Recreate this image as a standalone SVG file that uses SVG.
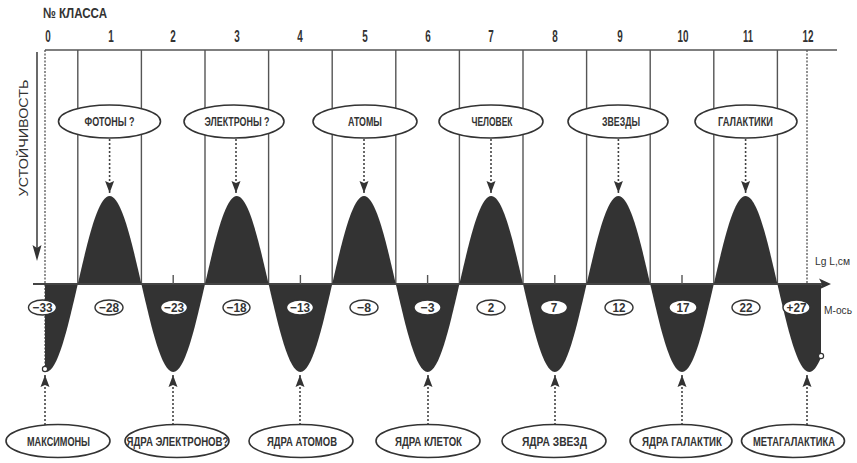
<svg xmlns="http://www.w3.org/2000/svg" xmlns:xlink="http://www.w3.org/1999/xlink" width="857" height="463" viewBox="0 0 857 463">
<style>
.t{font-family:"Liberation Sans Narrow","Liberation Sans",Arial,sans-serif;fill:#333;font-weight:bold;}
.n{font-weight:normal;}
.lbl{font-size:12.5px;text-anchor:middle;}
.num{font-size:16px;text-anchor:middle;}
.m{font-size:13px;text-anchor:middle;}
.grid{stroke:#555;stroke-width:1.4;fill:none;}
.ell{fill:#fff;stroke:#333;stroke-width:1.6;}
.mell{fill:#fff;stroke:#333;stroke-width:1.4;}
.dot{stroke:#444;stroke-width:1.6;stroke-dasharray:2 2;fill:none;marker-end:url(#ah);}
.wave{fill:#333;}
</style>
<defs>
<marker id="ah" markerUnits="userSpaceOnUse" markerWidth="14" markerHeight="12" viewBox="-13 -6 14 12" refX="0" refY="0" orient="auto">
<path d="M0,0 L-12,-4.5 L-10,0 L-12,4.5 Z" fill="#333"/>
</marker>
<path id="dip" d="M-31.8,0 C-21.43,45.08 -11.51,88 0,88 C11.51,88 21.43,45.08 31.8,0 Z"/>
<clipPath id="wc"><rect x="45" y="150" width="776" height="240"/></clipPath>
</defs>
<rect width="857" height="463" fill="#fff"/>

<!-- header -->
<text class="t" x="43" y="18" font-size="15" textLength="64" lengthAdjust="spacingAndGlyphs">№ КЛАССА</text>
<g class="t num">
<text x="48" y="42" textLength="5.5" lengthAdjust="spacingAndGlyphs">0</text>
<text x="111" y="42" textLength="5.5" lengthAdjust="spacingAndGlyphs">1</text>
<text x="173" y="42" textLength="5.5" lengthAdjust="spacingAndGlyphs">2</text>
<text x="237" y="42" textLength="5.5" lengthAdjust="spacingAndGlyphs">3</text>
<text x="300" y="42" textLength="5.5" lengthAdjust="spacingAndGlyphs">4</text>
<text x="365" y="42" textLength="5.5" lengthAdjust="spacingAndGlyphs">5</text>
<text x="428" y="42" textLength="5.5" lengthAdjust="spacingAndGlyphs">6</text>
<text x="491" y="42" textLength="5.5" lengthAdjust="spacingAndGlyphs">7</text>
<text x="555" y="42" textLength="5.5" lengthAdjust="spacingAndGlyphs">8</text>
<text x="620" y="42" textLength="5.5" lengthAdjust="spacingAndGlyphs">9</text>
<text x="683" y="42" textLength="11" lengthAdjust="spacingAndGlyphs">10</text>
<text x="748" y="42" textLength="10" lengthAdjust="spacingAndGlyphs">11</text>
<text x="808" y="42" textLength="11" lengthAdjust="spacingAndGlyphs">12</text>
</g>

<!-- grid -->
<line class="grid" x1="45" y1="50" x2="837" y2="50" stroke-width="2"/>
<g class="grid">
<line x1="77.8" y1="50" x2="77.8" y2="284"/><line x1="141.4" y1="50" x2="141.4" y2="284"/>
<line x1="205" y1="50" x2="205" y2="284"/><line x1="268.6" y1="50" x2="268.6" y2="284"/>
<line x1="332.2" y1="50" x2="332.2" y2="284"/><line x1="395.8" y1="50" x2="395.8" y2="284"/>
<line x1="459.4" y1="50" x2="459.4" y2="284"/><line x1="523" y1="50" x2="523" y2="284"/>
<line x1="586.6" y1="50" x2="586.6" y2="284"/><line x1="650.2" y1="50" x2="650.2" y2="284"/>
<line x1="713.8" y1="50" x2="713.8" y2="284"/><line x1="777.4" y1="50" x2="777.4" y2="284"/>
</g>
<line x1="45" y1="50" x2="45" y2="366" stroke="#555" stroke-width="1.3" stroke-dasharray="2 1.5"/>
<line x1="807" y1="50" x2="807" y2="284" stroke="#555" stroke-width="1.3" stroke-dasharray="2 1.5"/>

<!-- stability axis -->
<line x1="37" y1="52" x2="37" y2="248" stroke="#444" stroke-width="1.6"/>
<path d="M37,261 L32.5,245 L37,248 L41.5,245 Z" fill="#333"/>
<text class="t n" font-size="13" text-anchor="middle" transform="translate(28,138) rotate(-90)" textLength="117" lengthAdjust="spacingAndGlyphs">УСТОЙЧИВОСТЬ</text>

<!-- wave -->
<g class="wave" clip-path="url(#wc)">
<use xlink:href="#dip" href="#dip" transform="translate(46,284)"/>
<use xlink:href="#dip" href="#dip" transform="translate(109.6,284) scale(1,-1)"/>
<use xlink:href="#dip" href="#dip" transform="translate(173.2,284)"/>
<use xlink:href="#dip" href="#dip" transform="translate(236.8,284) scale(1,-1)"/>
<use xlink:href="#dip" href="#dip" transform="translate(300.4,284)"/>
<use xlink:href="#dip" href="#dip" transform="translate(364,284) scale(1,-1)"/>
<use xlink:href="#dip" href="#dip" transform="translate(427.6,284)"/>
<use xlink:href="#dip" href="#dip" transform="translate(491.2,284) scale(1,-1)"/>
<use xlink:href="#dip" href="#dip" transform="translate(554.8,284)"/>
<use xlink:href="#dip" href="#dip" transform="translate(618.4,284) scale(1,-1)"/>
<use xlink:href="#dip" href="#dip" transform="translate(682,284)"/>
<use xlink:href="#dip" href="#dip" transform="translate(745.6,284) scale(1,-1)"/>
<use xlink:href="#dip" href="#dip" transform="translate(809.2,284)"/>
</g>
<circle cx="45" cy="369" r="2.6" fill="#fff" stroke="#333" stroke-width="1.2"/>
<circle cx="821" cy="356" r="2.6" fill="#fff" stroke="#333" stroke-width="1.2"/>

<!-- M axis -->
<line x1="33" y1="284" x2="822" y2="284" stroke="#444" stroke-width="2"/>
<path d="M831,284 L819,278.5 L822,284 L819,289.5 Z" fill="#333"/>
<g stroke="#555" stroke-width="1.4">
<line x1="173.2" y1="275" x2="173.2" y2="284"/><line x1="300.4" y1="275" x2="300.4" y2="284"/>
<line x1="427.6" y1="275" x2="427.6" y2="284"/><line x1="554.8" y1="275" x2="554.8" y2="284"/>
<line x1="682" y1="275" x2="682" y2="284"/>
</g>
<text class="t n" x="815" y="265" font-size="11.5" textLength="35" lengthAdjust="spacingAndGlyphs">Lg L,см</text>
<text class="t n" x="824" y="314" font-size="11.5" textLength="28" lengthAdjust="spacingAndGlyphs">M-ось</text>

<g id="m-values">
<g><ellipse class="mell" cx="42.5" cy="307.5" rx="14" ry="7.5"/><text class="t m" x="42.5" y="312" textLength="20" lengthAdjust="spacingAndGlyphs">−33</text></g>
<g><ellipse class="mell" cx="109" cy="307.5" rx="14" ry="7.5"/><text class="t m" x="109" y="312" textLength="20" lengthAdjust="spacingAndGlyphs">−28</text></g>
<g><ellipse class="mell" cx="174" cy="307.5" rx="13.5" ry="7.5"/><text class="t m" x="174" y="312" textLength="20" lengthAdjust="spacingAndGlyphs">−23</text></g>
<g><ellipse class="mell" cx="236.5" cy="307.5" rx="13.5" ry="7.5"/><text class="t m" x="236.5" y="312" textLength="20" lengthAdjust="spacingAndGlyphs">−18</text></g>
<g><ellipse class="mell" cx="300" cy="307.5" rx="13.5" ry="7.5"/><text class="t m" x="300" y="312" textLength="20" lengthAdjust="spacingAndGlyphs">−13</text></g>
<g><ellipse class="mell" cx="364" cy="307.5" rx="14" ry="7.5"/><text class="t m" x="364" y="312" textLength="14" lengthAdjust="spacingAndGlyphs">−8</text></g>
<g><ellipse class="mell" cx="427.5" cy="307.5" rx="13.5" ry="7.5"/><text class="t m" x="427.5" y="312" textLength="14" lengthAdjust="spacingAndGlyphs">−3</text></g>
<g><ellipse class="mell" cx="491" cy="307.5" rx="14" ry="7.5"/><text class="t m" x="491" y="312" textLength="6.5" lengthAdjust="spacingAndGlyphs">2</text></g>
<g><ellipse class="mell" cx="554" cy="307.5" rx="13.5" ry="7.5"/><text class="t m" x="554" y="312" textLength="6.5" lengthAdjust="spacingAndGlyphs">7</text></g>
<g><ellipse class="mell" cx="619" cy="307.5" rx="14" ry="7.5"/><text class="t m" x="619" y="312" textLength="13" lengthAdjust="spacingAndGlyphs">12</text></g>
<g><ellipse class="mell" cx="683" cy="307.5" rx="14" ry="7.5"/><text class="t m" x="683" y="312" textLength="13" lengthAdjust="spacingAndGlyphs">17</text></g>
<g><ellipse class="mell" cx="746" cy="307.5" rx="14" ry="7.5"/><text class="t m" x="746" y="312" textLength="13" lengthAdjust="spacingAndGlyphs">22</text></g>
<g><ellipse class="mell" cx="796.5" cy="307.5" rx="13.5" ry="7.5"/><text class="t m" x="796.5" y="312" textLength="20" lengthAdjust="spacingAndGlyphs">+27</text></g>
</g>

<!-- connectors -->
<g id="connectors">
<line class="dot" x1="109.6" y1="139" x2="109.6" y2="193"/>
<line class="dot" x1="236" y1="139" x2="236" y2="193"/>
<line class="dot" x1="364" y1="139" x2="364" y2="193"/>
<line class="dot" x1="491" y1="139" x2="491" y2="193"/>
<line class="dot" x1="618.4" y1="139" x2="618.4" y2="193"/>
<line class="dot" x1="745.6" y1="139" x2="745.6" y2="193"/>
<line class="dot" x1="45" y1="425" x2="45" y2="375"/>
<line class="dot" x1="173" y1="425" x2="173" y2="375"/>
<line class="dot" x1="300" y1="425" x2="300" y2="375"/>
<line class="dot" x1="428" y1="425" x2="428" y2="375"/>
<line class="dot" x1="555" y1="425" x2="555" y2="375"/>
<line class="dot" x1="682" y1="425" x2="682" y2="375"/>
<line class="dot" x1="807" y1="425" x2="807" y2="375"/>
</g>

<!-- top nodes -->
<g id="n-photons"><ellipse class="ell" cx="109.5" cy="121.5" rx="51" ry="16.5"/><text class="t lbl" x="109.5" y="126" textLength="50" lengthAdjust="spacingAndGlyphs">ФОТОНЫ ?</text></g>
<g id="n-electrons"><ellipse class="ell" cx="234" cy="121.5" rx="50" ry="16.5"/><text class="t lbl" x="237" y="126" textLength="65" lengthAdjust="spacingAndGlyphs">ЭЛЕКТРОНЫ ?</text></g>
<g id="n-atoms"><ellipse class="ell" cx="365" cy="121.5" rx="52" ry="16.5"/><text class="t lbl" x="365" y="126" textLength="34" lengthAdjust="spacingAndGlyphs">АТОМЫ</text></g>
<g id="n-human"><ellipse class="ell" cx="491" cy="121.5" rx="52" ry="16.5"/><text class="t lbl" x="492" y="126" textLength="41" lengthAdjust="spacingAndGlyphs">ЧЕЛОВЕК</text></g>
<g id="n-stars"><ellipse class="ell" cx="618" cy="121.5" rx="50" ry="16.5"/><text class="t lbl" x="621" y="126" textLength="38" lengthAdjust="spacingAndGlyphs">ЗВЕЗДЫ</text></g>
<g id="n-galaxies"><ellipse class="ell" cx="746" cy="121.5" rx="51" ry="16.5"/><text class="t lbl" x="745.5" y="126" textLength="55" lengthAdjust="spacingAndGlyphs">ГАЛАКТИКИ</text></g>

<!-- bottom nodes -->
<g id="n-maximons"><ellipse class="ell" cx="58" cy="441" rx="52" ry="16.5"/><text class="t lbl" x="58.5" y="446" textLength="63" lengthAdjust="spacingAndGlyphs">МАКСИМОНЫ</text></g>
<g id="n-electron-nuclei"><ellipse class="ell" cx="177" cy="441" rx="52" ry="16.5"/><text class="t lbl" x="177.5" y="446" textLength="102" lengthAdjust="spacingAndGlyphs">ЯДРА ЭЛЕКТРОНОВ?</text></g>
<g id="n-atom-nuclei"><ellipse class="ell" cx="301" cy="441" rx="52" ry="16.5"/><text class="t lbl" x="302" y="446" textLength="70" lengthAdjust="spacingAndGlyphs">ЯДРА АТОМОВ</text></g>
<g id="n-cell-nuclei"><ellipse class="ell" cx="428" cy="441" rx="52" ry="16.5"/><text class="t lbl" x="428.5" y="446" textLength="67" lengthAdjust="spacingAndGlyphs">ЯДРА КЛЕТОК</text></g>
<g id="n-star-nuclei"><ellipse class="ell" cx="554" cy="441" rx="52" ry="16.5"/><text class="t lbl" x="554.5" y="446" textLength="65" lengthAdjust="spacingAndGlyphs">ЯДРА ЗВЕЗД</text></g>
<g id="n-galaxy-nuclei"><ellipse class="ell" cx="681" cy="441" rx="51" ry="16.5"/><text class="t lbl" x="682" y="446" textLength="80" lengthAdjust="spacingAndGlyphs">ЯДРА ГАЛАКТИК</text></g>
<g id="n-metagalaxy"><ellipse class="ell" cx="793" cy="441" rx="51.5" ry="16.5"/><text class="t lbl" x="794" y="446" textLength="82" lengthAdjust="spacingAndGlyphs">МЕТАГАЛАКТИКА</text></g>
</svg>
